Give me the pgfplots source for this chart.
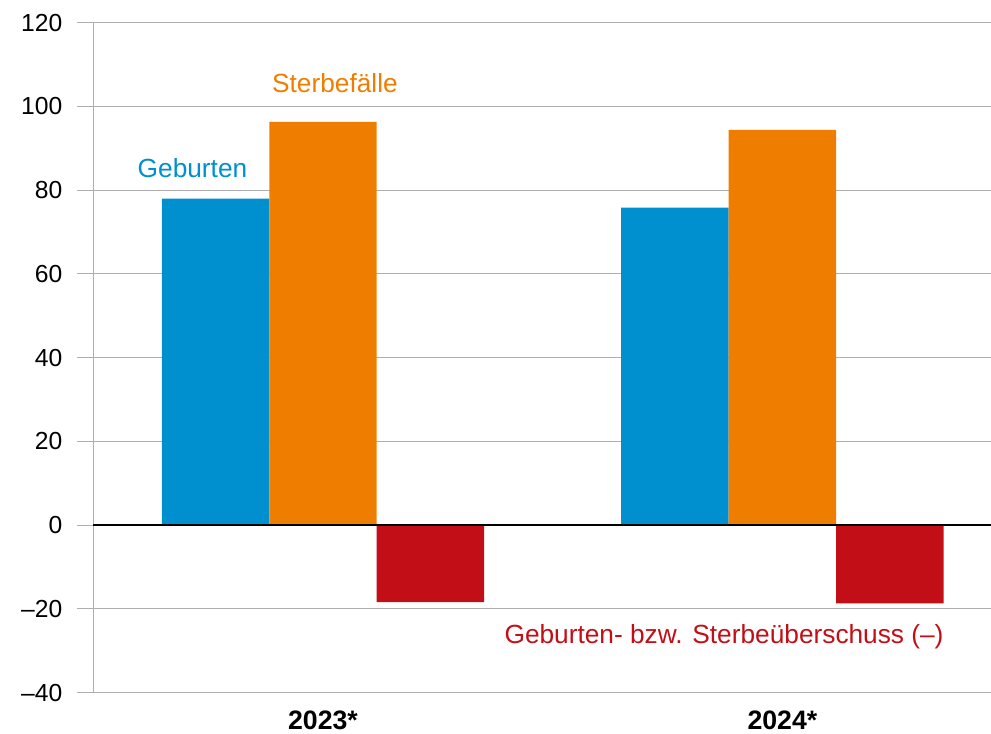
\documentclass[border=0pt]{standalone}
\usepackage{pgfplots}
\pgfplotsset{compat=1.18}
\usepackage{fontspec}
\setmainfont{Liberation Sans}
\definecolor{cblue}{RGB}{0,143,207}
\definecolor{corange}{RGB}{239,125,0}
\definecolor{cred}{RGB}{194,14,22}
\definecolor{cgrid}{RGB}{175,175,175}
\begin{document}
\begin{tikzpicture}
\begin{axis}[
 scale only axis, width=685.5pt, height=502.5pt,
 xmin=-0.5354, xmax=1.454, ymin=-40, ymax=120,
 ybar=0pt, bar width=80.6pt,
 xtick={0,1}, xticklabels={2023*,2024*},
 xticklabel style={font=\fontsize{20}{22}\selectfont\bfseries},
 xticklabel shift=10pt,
 ytick={-40,-20,0,20,40,60,80,100,120},
 yticklabels={–40,–20,0,20,40,60,80,100,120},
 yticklabel style={font=\fontsize{18.5}{20}\selectfont},
 yticklabel shift=7.5pt,
 axis line style={draw=none},
 ymajorgrids, grid style={cgrid, line width=0.8pt},
 major tick length=0pt,
 tick style={draw=none},
 clip=false,
]
\draw[cgrid, line width=0.8pt] (axis cs:-0.5,-40) -- (axis cs:-0.5,120);
\addplot[fill=cblue, draw=none] coordinates {(0,78.0) (1,75.8)};
\addplot[fill=corange, draw=none] coordinates {(0,96.3) (1,94.4)};
\addplot[fill=cred, draw=none] coordinates {(0,-18.4) (1,-18.7)};
\draw[black, line width=1.2pt] (axis cs:-0.5,0) -- (axis cs:1.454,0);
\node[anchor=base, text=cblue, font=\fontsize{19.7}{22}\selectfont] at (axis cs:-0.284,83.1) {Geburten};
\node[anchor=base, text=corange, font=\fontsize{19.7}{22}\selectfont] at (axis cs:0.026,103.3) {Sterbefälle};
\node[anchor=base, text=cred, font=\fontsize{19.7}{22}\selectfont] at (axis cs:0.873,-28.2) {Geburten- bzw. Sterbeüberschuss (–)};
\coordinate (sw) at (rel axis cs:0,0);
\coordinate (ne) at (rel axis cs:1,1);
\end{axis}
\pgfresetboundingbox
\path[use as bounding box] ([xshift=-57.75pt,yshift=-31pt]sw) rectangle ([yshift=17pt]ne);
\end{tikzpicture}
\end{document}
